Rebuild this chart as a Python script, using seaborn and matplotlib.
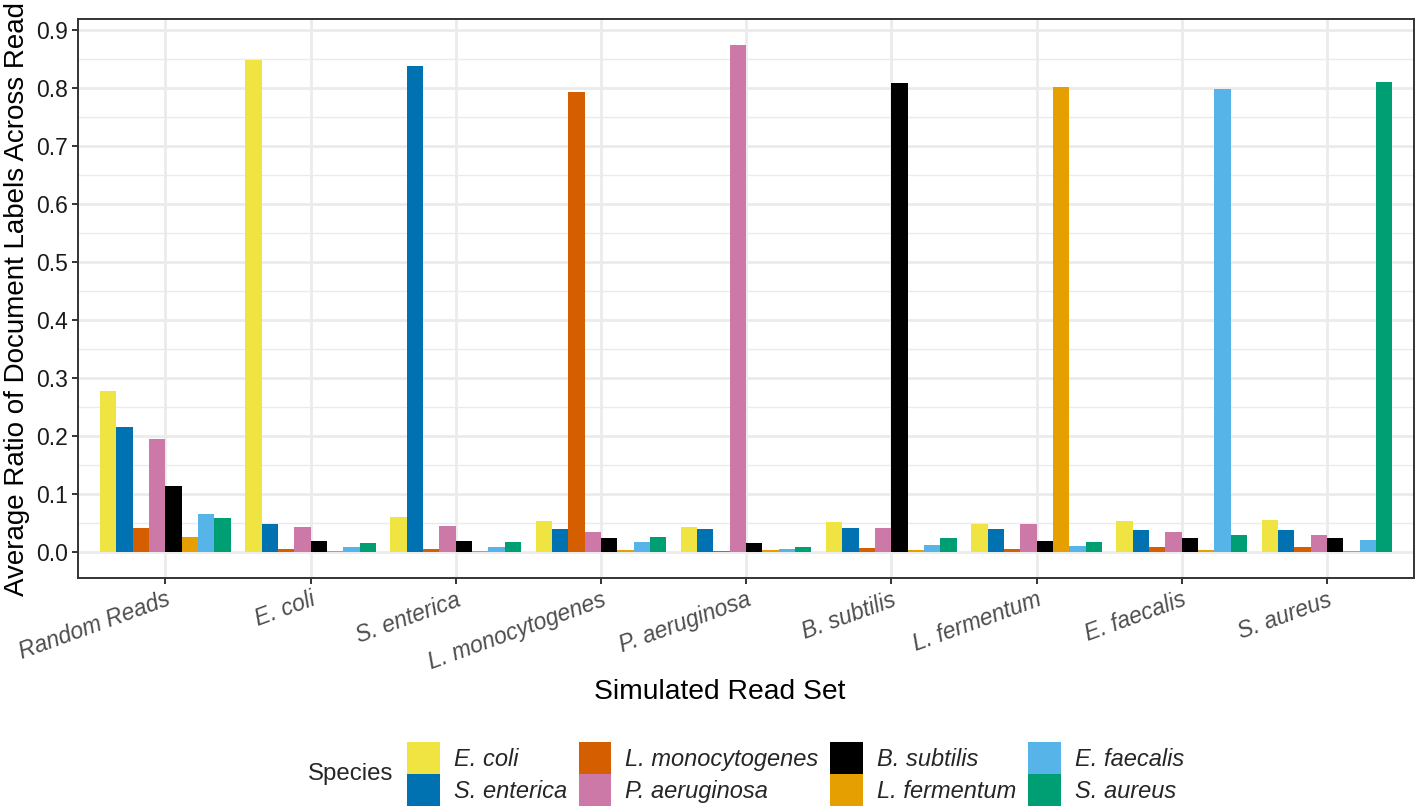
import pandas as pd
import matplotlib.pyplot as plt
import seaborn as sns
from matplotlib.patches import Patch
from matplotlib.ticker import MultipleLocator

# Read sets (x axis) and species (bar colours)
read_sets = ["Random Reads", "E. coli", "S. enterica", "L. monocytogenes",
             "P. aeruginosa", "B. subtilis", "L. fermentum", "E. faecalis", "S. aureus"]
species = ["E. coli", "S. enterica", "L. monocytogenes", "P. aeruginosa",
           "B. subtilis", "L. fermentum", "E. faecalis", "S. aureus"]
colors = ["#F0E442", "#0072B2", "#D55E00", "#CC79A7",
          "#000000", "#E69F00", "#56B4E9", "#009E73"]

# Average ratio of labels, one list per species, in read_sets order
e_coli = [0.278, 0.847, 0.060, 0.054, 0.044, 0.053, 0.049, 0.0545, 0.056]
s_enterica = [0.216, 0.049, 0.837, 0.040, 0.041, 0.042, 0.040, 0.039, 0.039]
l_monocytogenes = [0.0425, 0.0064, 0.006, 0.793, 0.003, 0.008, 0.0064, 0.009, 0.0098]
p_aeruginosa = [0.195, 0.044, 0.045, 0.0355, 0.874, 0.0425, 0.049, 0.0355, 0.030]
b_subtilis = [0.114, 0.020, 0.020, 0.025, 0.016, 0.808, 0.020, 0.025, 0.025]
l_fermentum = [0.0265, 0.003, 0.003, 0.004, 0.0035, 0.0035, 0.802, 0.004, 0.003]
e_faecalis = [0.066, 0.0093, 0.010, 0.017, 0.005, 0.013, 0.0115, 0.798, 0.022]
s_aureus = [0.0597, 0.0167, 0.017, 0.027, 0.009, 0.025, 0.018, 0.030, 0.809]

values = [e_coli, s_enterica, l_monocytogenes, p_aeruginosa,
          b_subtilis, l_fermentum, e_faecalis, s_aureus]

# long format table for seaborn
rows = []
for sp, vals in zip(species, values):
    for rs, v in zip(read_sets, vals):
        rows.append({"Read_Set": rs, "Species": sp, "Ratio": v})
df = pd.DataFrame(rows)

sns.set_style("white")
plt.rcParams['font.family'] = ['Liberation Sans', 'DejaVu Sans']

fig = plt.figure(figsize=(14.17, 8.10), dpi=100)
ax = fig.add_axes([78.3 / 1417, 1 - 577.7 / 810, (1414 - 78.3) / 1417, (577.7 - 19.3) / 810])

sns.barplot(data=df, x="Read_Set", y="Ratio", hue="Species",
            order=read_sets, hue_order=species, palette=colors,
            width=0.9, errorbar=None, saturation=1, linewidth=0, ax=ax)
ax.legend_.remove()

ax.set_xlim(-0.6, 8.6)
ax.set_ylim(-0.0437, 0.9177)

# theme_bw look
ax.set_axisbelow(True)
ax.yaxis.set_major_locator(MultipleLocator(0.1))
ax.yaxis.set_minor_locator(MultipleLocator(0.05))
ax.grid(True, which="major", color="#EBEBEB", linewidth=2.0)
ax.grid(True, which="minor", axis="y", color="#EBEBEB", linewidth=1.0)
for s in ax.spines.values():
    s.set_color("#333333")
    s.set_linewidth(1.4)
ax.tick_params(axis="both", which="major", direction="out", length=4, width=1.4,
               color="#333333", labelcolor="#4D4D4D", labelsize=16.5,
               left=True, bottom=True)
ax.tick_params(axis="y", which="minor", length=0)
ax.set_yticks([i / 10 for i in range(10)])
ax.set_yticklabels([f"{i / 10:.1f}" for i in range(10)], color="#1A1A1A")
ax.set_xticks(range(len(read_sets)))
ax.set_xticklabels(read_sets, rotation=20, ha="right", va="top",
                   rotation_mode="anchor", style="italic")

# the reference shows the axis title trimmed at the top edge
ax.set_ylabel("Average Ratio of Document Labels Across Read", fontsize=20, color="black")
ax.yaxis.set_label_coords(-0.036, 0.5)
ax.set_xlabel("Simulated Read Set", fontsize=20.3, color="black")
ax.xaxis.label.set_va("center")
ax.xaxis.set_label_coords(0.4804, -0.2047)

# legend at the bottom, title on the left
handles = [Patch(facecolor=c, edgecolor="none", label=s) for s, c in zip(species, colors)]
leg = fig.legend(handles=handles, ncol=4, loc="upper left",
                 bbox_to_anchor=(407 / 1417, 1 - 742 / 810),
                 frameon=False, prop={"style": "italic", "size": 17},
                 handlelength=1.38, handleheight=1.72, handletextpad=0.6,
                 columnspacing=0.5, labelspacing=0, borderpad=0, borderaxespad=0)
fig.text(308 / 1417, 1 - 774 / 810, "Species", fontsize=17.3, va="center", ha="left")

plt.savefig("out.png", dpi=100)
